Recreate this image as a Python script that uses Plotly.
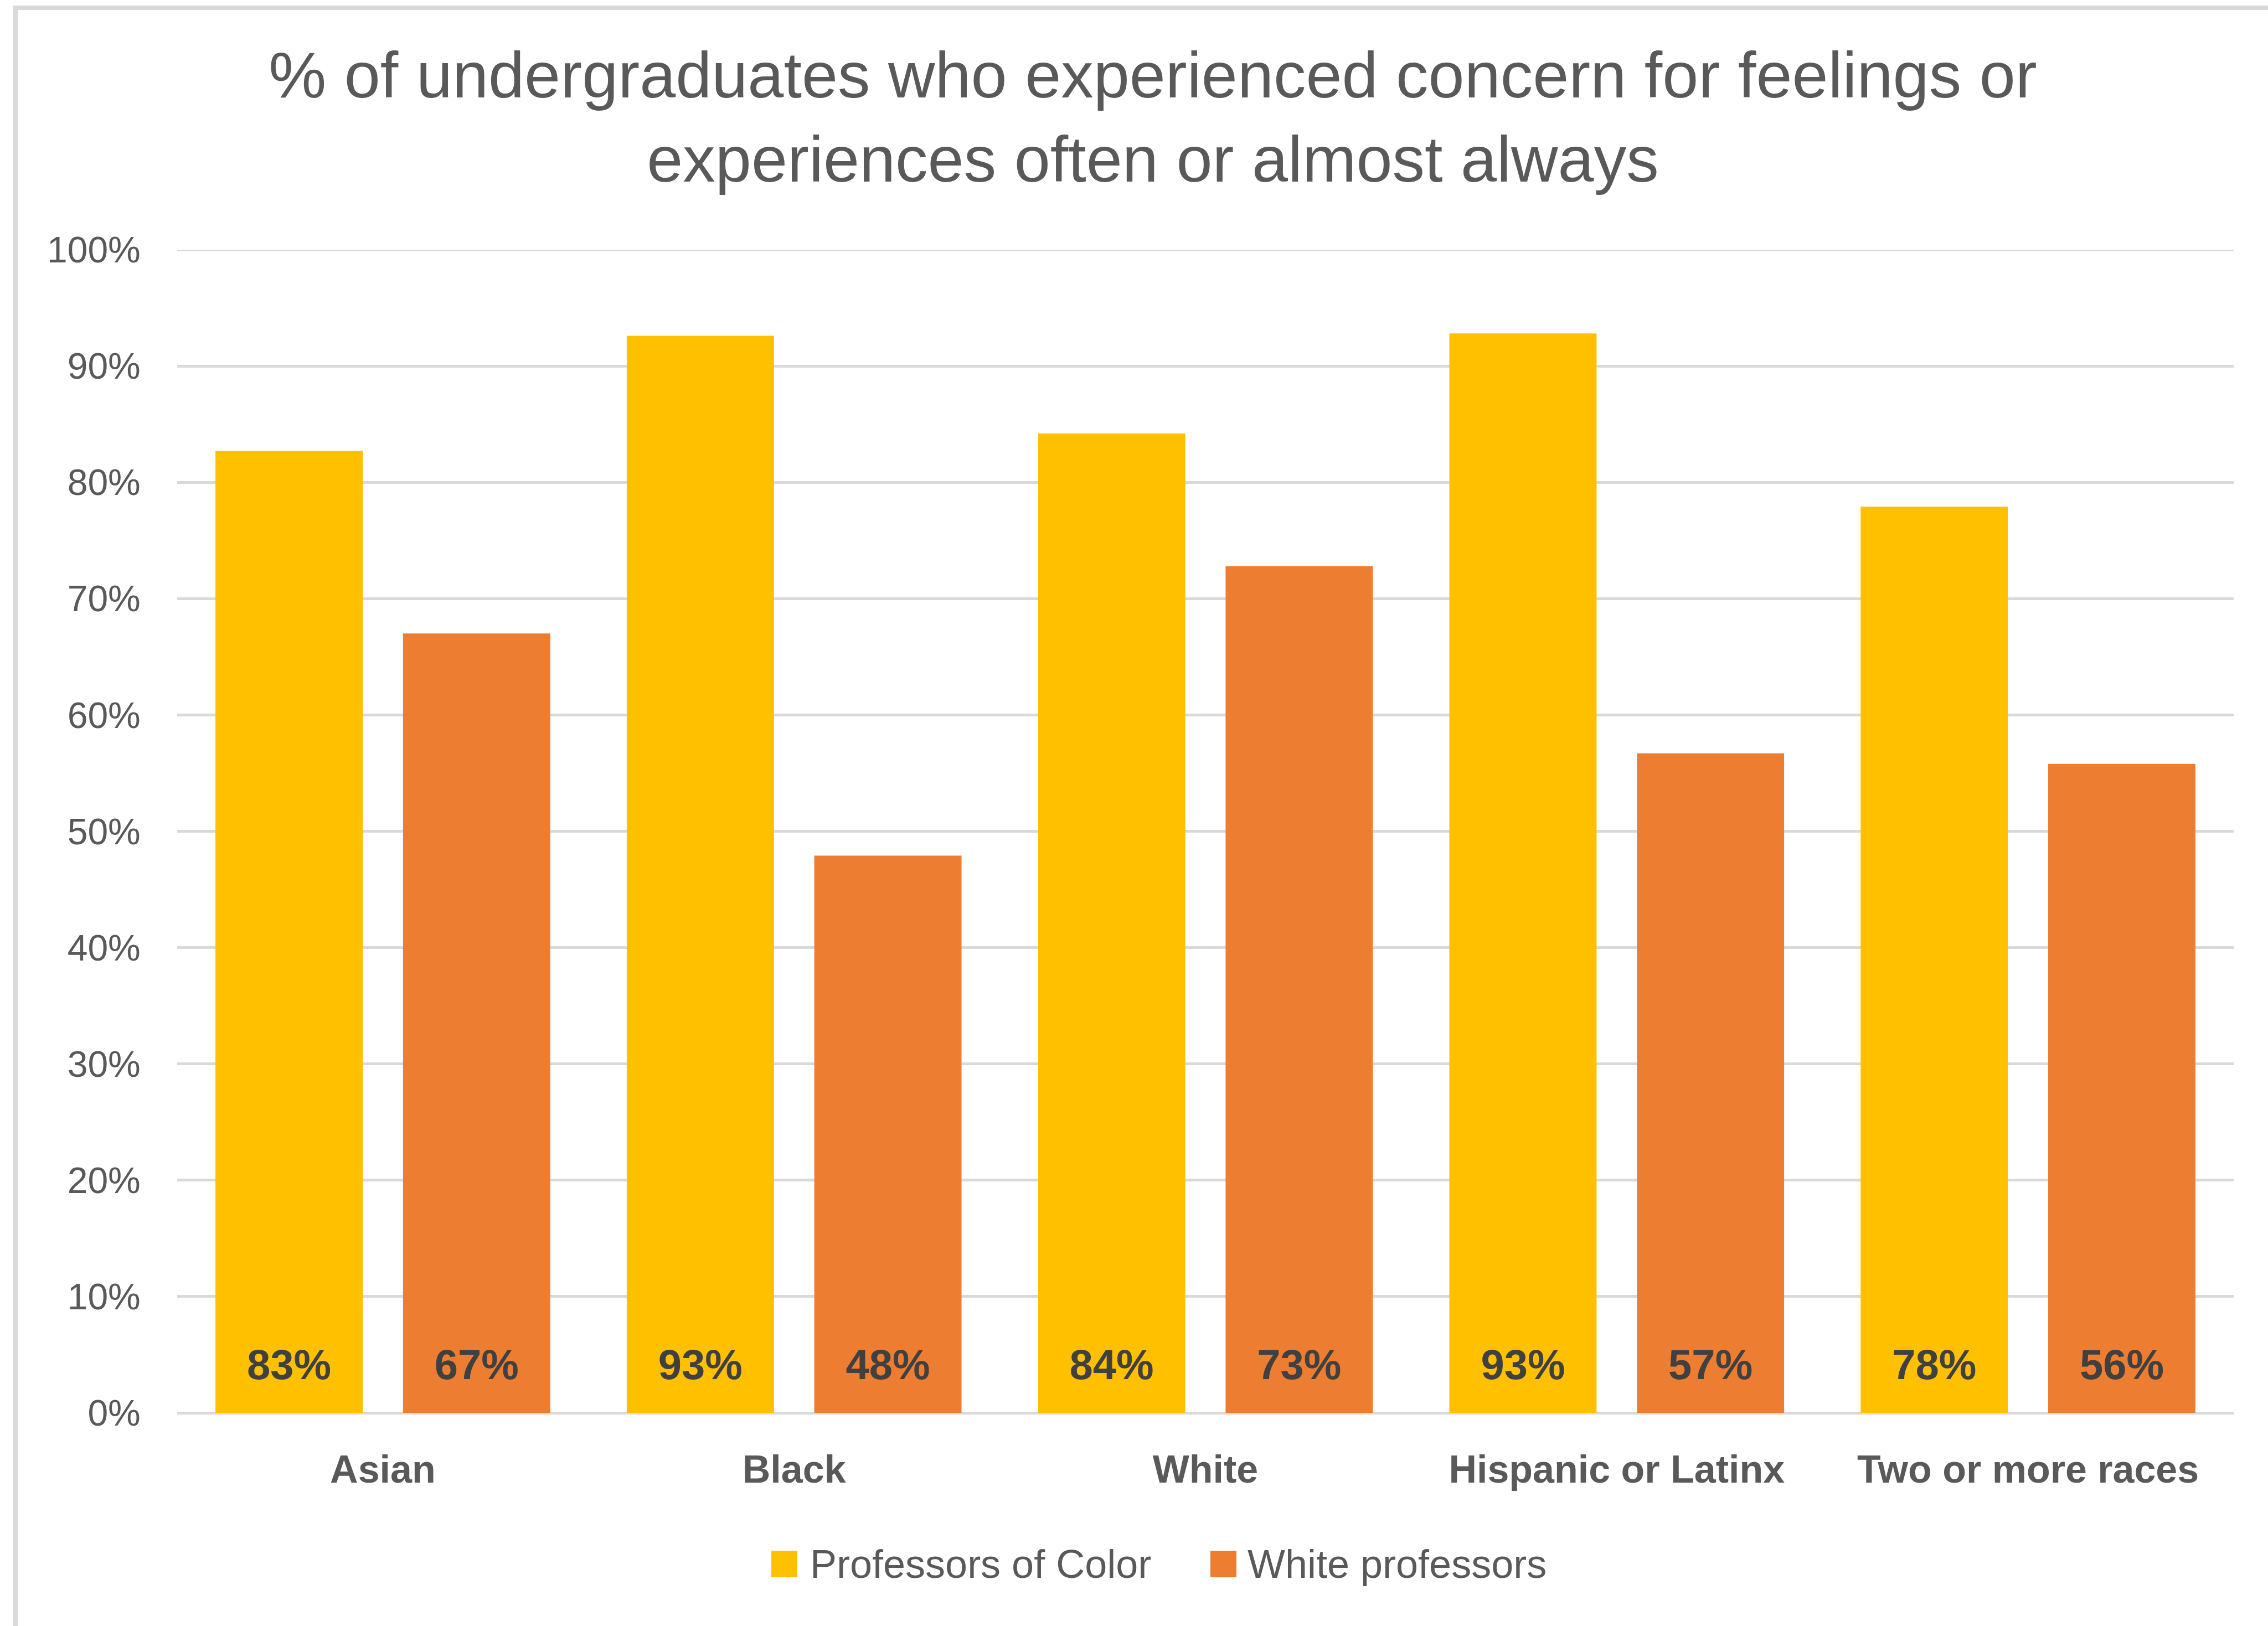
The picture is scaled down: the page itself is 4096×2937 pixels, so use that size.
import plotly.graph_objects as go

# ---------------- data ----------------
categories = ["Asian", "Black", "White", "Hispanic or Latinx", "Two or more races"]
series_names = ["Professors of Color", "White professors"]
poc_values = [82.7, 92.6, 84.2, 92.8, 77.9]
white_values = [67.0, 47.9, 72.8, 56.7, 55.8]
y_tick_values = [0, 10, 20, 30, 40, 50, 60, 70, 80, 90, 100]
title_lines = ["% of undergraduates who experienced concern for feelings or",
               "experiences often or almost always"]

# ---------------- style ----------------
W, H = 4096, 2937
L, R, T, B = 320, 4034, 451, 2552          # plot area in pixels
YELLOW, ORANGE = "#FFC000", "#ED7D31"
GRID = "#D9D9D9"
TXT = "#595959"
LBL = "#404040"
REG = "Liberation Sans, Arial, sans-serif"
LABEL_Y = 3.8   # vertical position of in-bar value labels (axis units)


def px_x(px):
    return (px - L) / (R - L)


def px_y(py):
    return (B - py) / (B - T)


fig = go.Figure()
for name, vals, col in [(series_names[0], poc_values, YELLOW),
                        (series_names[1], white_values, ORANGE)]:
    fig.add_trace(go.Bar(x=categories, y=vals, name=name, marker_color=col,
                         marker_line_width=0, showlegend=False))
for name, vals in [(series_names[0], poc_values), (series_names[1], white_values)]:
    fig.add_trace(go.Scatter(x=categories, y=[LABEL_Y] * len(vals), mode="text",
                             text=[f"{v:.0f}%" for v in vals],
                             textposition="middle center",
                             textfont=dict(family=REG, size=76, color=LBL, weight="bold"),
                             showlegend=False, hoverinfo="skip", name=name))

fig.update_layout(
    width=W, height=H, autosize=False,
    margin=dict(l=L, r=W - R, t=T, b=H - B, pad=0),
    paper_bgcolor="white", plot_bgcolor="white",
    barmode="group", bargap=0.088, bargroupgap=0.215,
    scattermode="group", scattergap=0.088,
    title=dict(text="<br>".join(title_lines), x=2082 / W, xref="container", xanchor="center",
               y=1 - 176 / H, yref="container", yanchor="top",
               font=dict(family=REG, size=117, color=TXT)),
    xaxis=dict(showgrid=False, showline=False, zeroline=False, ticks="",
               tickfont=dict(family=REG, size=70, color=TXT, weight="bold"),
               ticklabelstandoff=55),
    yaxis=dict(range=[0, 100], tickvals=y_tick_values,
               ticktext=[f"{v}%" for v in y_tick_values],
               showgrid=True, gridcolor=GRID, gridwidth=5,
               zeroline=True, zerolinecolor=GRID, zerolinewidth=5,
               showline=False, ticks="outside", ticklen=0,
               tickfont=dict(family=REG, size=66, color=TXT),
               ticklabelstandoff=52),
    showlegend=False,
)

# top gridline (at the range edge, which plotly omits)
fig.add_shape(type="line", xref="paper", yref="y", x0=0, x1=1,
              y0=y_tick_values[-1], y1=y_tick_values[-1],
              line=dict(color=GRID, width=5), layer="below")

# chart border (left and top edges visible)
fig.add_shape(type="rect", xref="paper", yref="paper",
              x0=px_x(28), x1=px_x(W + 40), y0=px_y(H + 40), y1=px_y(14),
              line=dict(color=GRID, width=8), fillcolor="rgba(0,0,0,0)", layer="below")

# legend (manual, to match large square symbols)
legend_items = [(series_names[0], YELLOW, 1393, 1461), (series_names[1], ORANGE, 2186, 2251)]
for name, col, sx, tx in legend_items:
    fig.add_shape(type="rect", xref="paper", yref="paper",
                  x0=px_x(sx), x1=px_x(sx + 47), y0=px_y(2849), y1=px_y(2801),
                  line=dict(width=0), fillcolor=col)
    fig.add_annotation(xref="paper", yref="paper", x=px_x(tx), y=px_y(2825),
                       xanchor="left", yanchor="middle", showarrow=False, text=name,
                       font=dict(family=REG, size=72, color=TXT))

fig.write_html("out.html")
